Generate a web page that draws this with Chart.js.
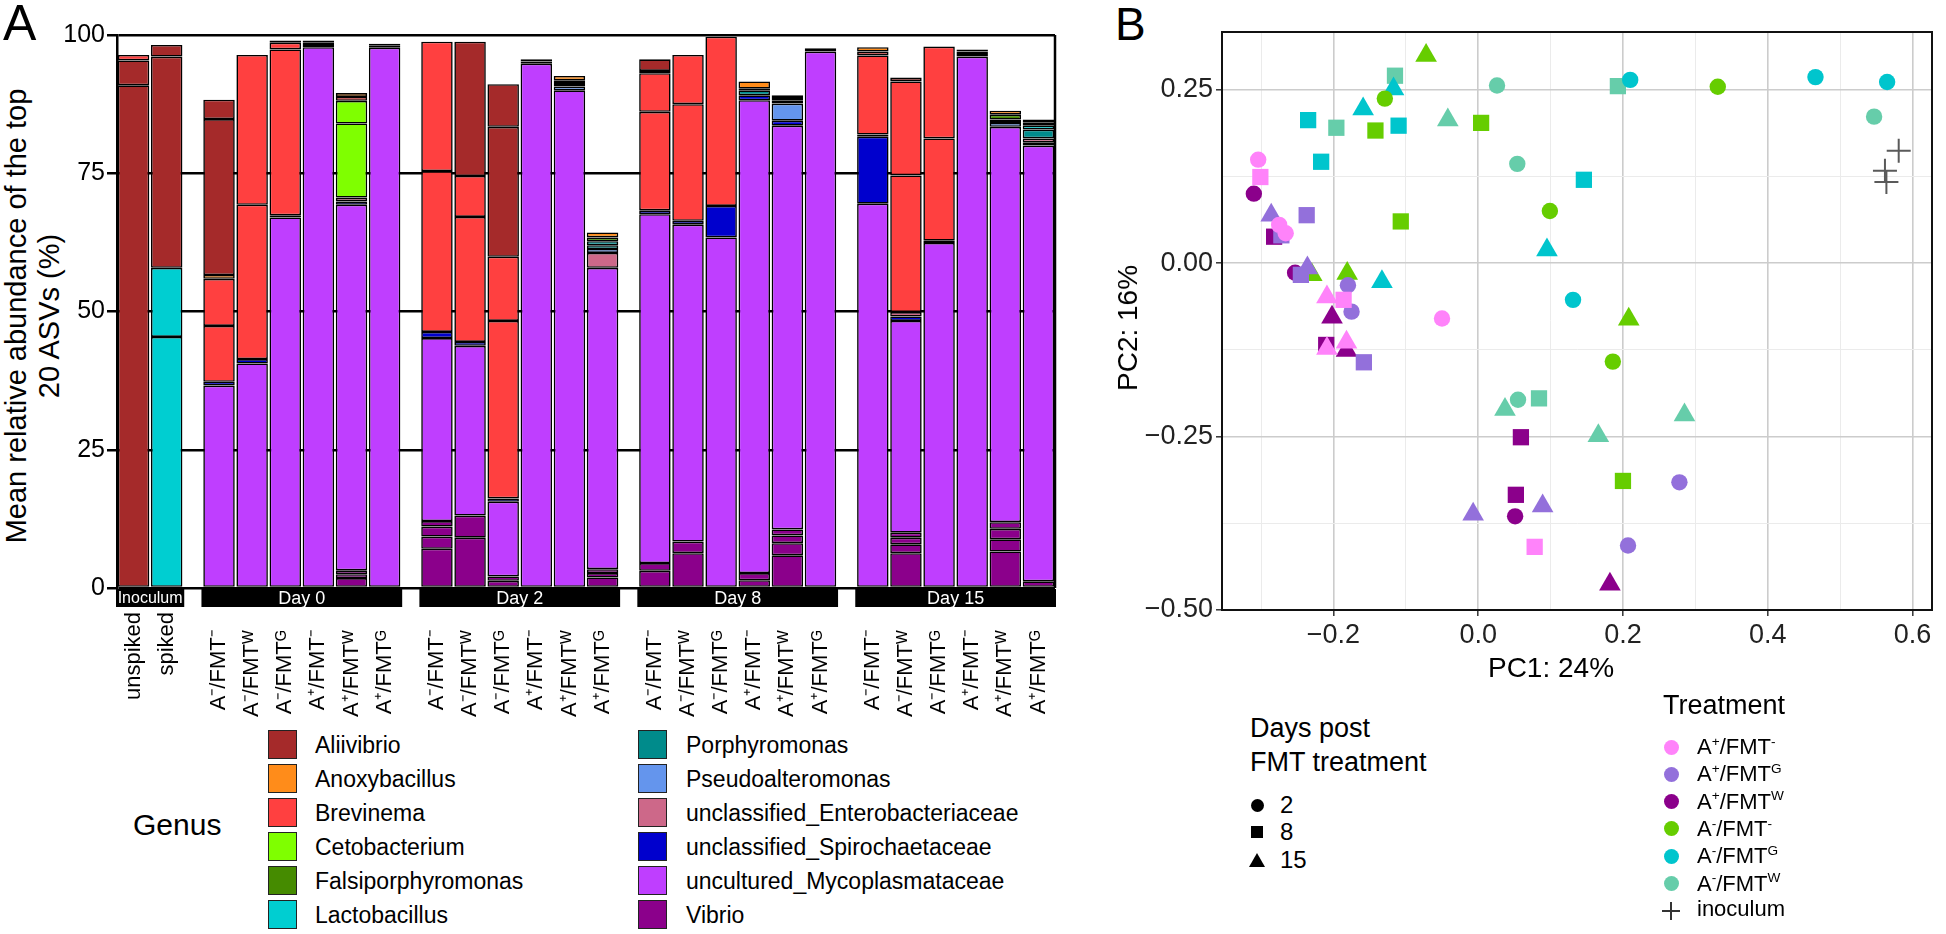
<!DOCTYPE html>
<html><head><meta charset="utf-8">
<script src="https://cdn.jsdelivr.net/npm/chart.js@4.4.1/dist/chart.umd.min.js"></script>
<style>
html,body{margin:0;padding:0;background:#fff;}
body{width:1946px;height:934px;position:relative;overflow:hidden;font-family:"Liberation Sans",Arial,Helvetica,sans-serif;color:#000;}
.t{position:absolute;line-height:1;white-space:nowrap;transform:translateY(-50%);}
.rot{position:absolute;white-space:nowrap;text-align:center;transform:translate(-50%,-50%) rotate(-90deg);}
canvas{position:absolute;}
sup{font-size:62%;vertical-align:0;position:relative;top:-0.6em;}
.sw{position:absolute;width:27px;height:27px;border:1.5px solid #222;}
.dot{position:absolute;border-radius:50%;}
</style>
</head>
<body>
<div class="t" style="left:3px;top:23px;font-size:50px;">A</div>
<div class="t" style="left:1115px;top:24px;font-size:46px;">B</div>
<div class="rot" style="left:33px;top:316px;font-size:29px;line-height:33px;">Mean relative abundance of the top<br>20 ASVs (%)</div>
<canvas id="cA" width="1090" height="720" style="left:0;top:0;"></canvas>
<canvas id="cB" width="856" height="700" style="left:1090px;top:0;"></canvas>
<div class="t" style="left:1551px;top:668px;font-size:28px;transform:translate(-50%,-50%);">PC1: 24%</div>
<div class="rot" style="left:1128px;top:328px;font-size:28px;">PC2: 16%</div>
<div class="t" style="left:133px;top:825px;font-size:30px;">Genus</div>
<div id="legA"></div>
<div class="t" style="left:1250px;top:728px;font-size:27px;">Days post</div>
<div class="t" style="left:1250px;top:762px;font-size:27px;">FMT treatment</div>
<div id="legDay"></div>
<div class="t" style="left:1663px;top:705px;font-size:27px;">Treatment</div>
<div id="legTrt"></div>
<script>
const FONT = '"Liberation Sans", Arial, Helvetica, sans-serif';
const _ = null;

// ---------- Panel A data ----------
const groupNames = ['Inoculum', 'Day 0', 'Day 2', 'Day 8', 'Day 15'];
const groupSizes = [2, 6, 6, 6, 6];
const trtLabels = ['A\u207B/FMT\u207B', 'A\u207B/FMT\u1D42', 'A\u207B/FMT\u1D33', 'A\u207A/FMT\u207B', 'A\u207A/FMT\u1D42', 'A\u207A/FMT\u1D33'];
const sampleLabels = ['unspiked', 'spiked'].concat(trtLabels, trtLabels, trtLabels, trtLabels);

const genusNames = ['Aliivibrio', 'Anoxybacillus', 'Brevinema', 'Cetobacterium', 'Falsiporphyromonas', 'Lactobacillus',
  'Porphyromonas', 'Pseudoalteromonas', 'unclassified_Enterobacteriaceae', 'unclassified_Spirochaetaceae',
  'uncultured_Mycoplasmataceae', 'Vibrio'];

// top-20 ASVs, stacking order bottom -> top; 26 samples each
//                 unsp spk | D0: A-F- A-FW A-FG A+F- A+FW A+FG | D2 ... | D8 ... | D15 ...
const asvV1  = [_, _,   _, _, _, _, 1.8, _,   7.1, 9.1, 1.3, _, _, 1.9,   3.1, 6.3, _, 1.4, 5.9, _,   _, 6.3, _, _, 6.6, 1.2];
const asvV2  = [_, _,   _, _, _, _, 0.7, _,   2.2, 4.0, 0.8, _, _, 0.8,   1.4, 2.1, _, 1.3, 2.2, _,   _, 1.6, _, _, 2.2, _];
const asvV3  = [_, _,   _, _, _, _, 0.7, _,   1.8, _, _, _, _, 0.7,       _, _, _, _, 1.4, _,         _, 1.2, _, _, 1.9, _];
const asvV4  = [_, _,   _, _, _, _, _, _,     1.0, _, _, _, _, _,         _, _, _, _, 1.1, _,         _, 0.9, _, _, 1.2, _];
const asvM1  = [_, _,   36.6, 40.6, 67.0, 97.8, 66.1, 97.7,   33.1, 30.7, 13.5, 94.8, 90.0, 54.5,   63.1, 57.3, 63.4, 85.5, 73.0, 97.0,   69.5, 38.3, 62.4, 96.1, 71.5, 78.8];
const asvS1  = [_, _,   0.7, 0.8, _, _, 0.6, _,   1.1, 0.7, 0.6, _, _, _,   0.7, 0.7, 5.7, 0.9, 0.9, _,   12.1, 0.8, 0.4, _, _, 0.6];
const asvE1  = [_, _,   _, _, _, _, 0.7, _,   _, _, _, _, _, 2.7,   _, _, _, _, _, _,   _, 0.8, _, _, _, 0.7];
const asvP1  = [_, _,   _, _, _, _, _, _,     _, _, _, _, 0.7, 0.7, _, _, _, _, 3.1, _,   _, _, _, _, 0.7, _];
const asvPo1 = [_, _,   _, _, 0.4, 0.4, _, 0.35,   _, _, _, 0.4, 0.6, 0.7,   _, _, _, 0.9, 0.5, 0.3,   0.4, _, _, 0.45, 0.6, 1.6];
const asvL1  = [_, 45.4, _, _, _, _, _, _,   _, _, _, _, _, 0.7,   _, _, _, _, _, _,   _, _, _, _, _, 0.7];
const asvL2  = [_, 12.5, _, _, _, _, _, _,   _, _, _, _, _, _,     _, _, _, _, _, _,   _, _, _, _, _, _];
const asvF1  = [_, _,   _, _, _, 0.4, _, _,   _, _, _, _, 0.5, 0.7,   _, _, _, 0.3, _, _,   _, _, _, 0.45, 0.9, 0.6];
const asvC1  = [_, _,   _, _, _, _, 13.4, _,   _, _, _, _, _, _,   _, _, _, _, 0.5, _,   _, _, _, _, _, _];
const asvC2  = [_, _,   _, _, _, _, 4.1, _,    _, _, _, _, _, _,   _, _, _, _, _, _,     _, _, _, _, _, _];
const asvB1  = [_, _,   10.1, 27.9, 30.0, _, 0.7, _,   29.1, 22.6, 32.1, _, _, _,   17.8, 21.1, 30.6, _, _, _,   14.3, 24.7, 18.5, _, _, _];
const asvB2  = [_, _,   8.5, 27.1, 1.2, _, _, _,   23.4, 7.4, 11.6, _, _, _,   7.0, 8.9, _, _, _, _,   0.7, 17.0, 16.6, _, _, _];
const asvAn1 = [_, _,   0.7, _, 0.4, 0.4, 0.7, 0.35,   _, _, _, 0.4, 0.8, 0.9,   0.4, _, _, 1.3, 0.5, 0.3,   0.8, _, _, 0.4, 0.7, 0.5];
const asvAl1 = [90.9, 38.2,   28.2, _, _, _, _, _,   _, 24.3, 23.5, _, _, _,   2.1, _, _, _, _, _,   _, 0.7, _, _, _, _];
const asvAl2 = [4.5, 2.1,   3.5, _, _, _, _, _,   _, _, 7.7, _, _, _,   _, _, _, _, _, _,   _, _, _, _, _, _];
const asvB3  = [1.0, _,   _, _, _, _, _, _,   _, _, _, _, _, _,   _, _, _, _, _, _,   _, _, _, _, _, _];

const asvList = [
  ['Vibrio', asvV1], ['Vibrio', asvV2], ['Vibrio', asvV3], ['Vibrio', asvV4],
  ['uncultured_Mycoplasmataceae', asvM1], ['unclassified_Spirochaetaceae', asvS1],
  ['unclassified_Enterobacteriaceae', asvE1], ['Pseudoalteromonas', asvP1], ['Porphyromonas', asvPo1],
  ['Lactobacillus', asvL1], ['Lactobacillus', asvL2], ['Falsiporphyromonas', asvF1],
  ['Cetobacterium', asvC1], ['Cetobacterium', asvC2], ['Brevinema', asvB1], ['Brevinema', asvB2],
  ['Anoxybacillus', asvAn1], ['Aliivibrio', asvAl1], ['Aliivibrio', asvAl2], ['Brevinema', asvB3]
];

// ---------- Panel B data: [PC1, PC2, day] ----------
const pcoaApFmtNeg = [[-0.304,0.149,2],[-0.301,0.124,8],[-0.275,0.055,2],[-0.266,0.043,2],[-0.209,-0.049,15],[-0.186,-0.053,8],[-0.209,-0.123,15],[-0.182,-0.114,15],[-0.050,-0.080,2],[0.078,-0.409,8]];
const pcoaApFmtG   = [[-0.286,0.069,15],[-0.237,0.069,8],[-0.272,0.040,8],[-0.245,-0.017,8],[-0.236,-0.007,15],[-0.180,-0.032,2],[-0.175,-0.070,2],[-0.158,-0.143,8],[-0.007,-0.362,15],[0.089,-0.350,15],[0.278,-0.316,2],[0.207,-0.407,2]];
const pcoaApFmtW   = [[-0.310,0.100,2],[-0.282,0.038,8],[-0.253,-0.014,2],[-0.202,-0.078,15],[-0.210,-0.118,8],[-0.182,-0.126,15],[0.059,-0.251,8],[0.052,-0.334,8],[0.051,-0.365,2],[0.182,-0.463,15]];
const pcoaAmFmtNeg = [[-0.072,0.299,15],[-0.129,0.237,2],[-0.142,0.191,8],[0.004,0.202,8],[0.331,0.254,2],[-0.107,0.060,8],[0.099,0.075,2],[-0.230,-0.017,15],[-0.181,-0.015,15],[0.208,-0.081,15],[0.186,-0.142,2],[0.200,-0.314,8]];
const pcoaAmFmtG   = [[-0.235,0.206,8],[-0.217,0.146,8],[-0.159,0.222,15],[-0.117,0.251,15],[-0.110,0.198,8],[-0.133,-0.027,15],[0.210,0.264,2],[0.146,0.120,8],[0.095,0.019,15],[0.131,-0.053,2],[0.466,0.268,2],[0.565,0.261,2]];
const pcoaAmFmtW   = [[-0.115,0.270,8],[-0.196,0.195,8],[-0.042,0.206,15],[0.026,0.256,2],[0.054,0.143,2],[0.193,0.255,8],[0.547,0.211,2],[0.037,-0.211,15],[0.055,-0.197,2],[0.084,-0.195,8],[0.166,-0.249,15],[0.285,-0.219,15]];
const pcoaInoculum = [[0.581,0.162],[0.562,0.133],[0.564,0.117]];
const dayLevels = [2, 8, 15];

// ---------- styles ----------
const genusColors = {
  'Aliivibrio':'#A52A2A','Anoxybacillus':'#FF8C1A','Brevinema':'#FF4040','Cetobacterium':'#7FFF00',
  'Falsiporphyromonas':'#458B00','Lactobacillus':'#00CED1','Porphyromonas':'#008B8B','Pseudoalteromonas':'#6495ED',
  'unclassified_Enterobacteriaceae':'#CD6889','unclassified_Spirochaetaceae':'#0000CD',
  'uncultured_Mycoplasmataceae':'#BF3EFF','Vibrio':'#8B008B'
};
const trtStyles = [
  {html:'A<sup>+</sup>/FMT<sup>-</sup>', data:pcoaApFmtNeg, color:'#FF83FA'},
  {html:'A<sup>+</sup>/FMT<sup>G</sup>', data:pcoaApFmtG, color:'#9370DB'},
  {html:'A<sup>+</sup>/FMT<sup>W</sup>', data:pcoaApFmtW, color:'#8B008B'},
  {html:'A<sup>-</sup>/FMT<sup>-</sup>', data:pcoaAmFmtNeg, color:'#66CD00'},
  {html:'A<sup>-</sup>/FMT<sup>G</sup>', data:pcoaAmFmtG, color:'#00C5CD'},
  {html:'A<sup>-</sup>/FMT<sup>W</sup>', data:pcoaAmFmtW, color:'#66CDAA'}
];

Chart.defaults.font.family = FONT;
Chart.defaults.color = '#000';

// ---------- Panel A ----------
const GAP = 0.58;
const barX = [], groupSpan = [];
let pos = 0;
groupSizes.forEach(n => { const s = pos; for (let k = 0; k < n; k++) { barX.push(pos + 0.5); pos += 1; } groupSpan.push([s, pos]); pos += GAP; });
const xMaxA = pos - GAP;

const dsA = asvList.map(([g, vals]) => ({
  label: g,
  data: vals.map((v, i) => ({x: barX[i], y: v})),
  backgroundColor: genusColors[g],
  borderColor: '#000',
  borderWidth: 1.6,
  borderSkipped: false,
  barPercentage: 0.95,
  categoryPercentage: 1
}));

const panelAPlugin = {
  id: 'panelA',
  beforeDatasetsDraw(chart) {
    const {ctx, chartArea: a} = chart;
    ctx.save(); ctx.strokeStyle = '#000'; ctx.lineWidth = 2.5;
    ctx.beginPath(); ctx.moveTo(a.right, a.top); ctx.lineTo(a.right, a.bottom); ctx.stroke();
    ctx.restore();
  },
  afterDraw(chart) {
    const {ctx, chartArea: a, scales: {x}} = chart;
    ctx.save();
    groupSpan.forEach(([s, e], g) => {
      const x0 = x.getPixelForValue(s) - 1, x1 = x.getPixelForValue(e) + 1;
      ctx.fillStyle = '#000';
      ctx.fillRect(x0, a.bottom + 1, x1 - x0, 18);
      ctx.fillStyle = '#fff';
      ctx.font = (g === 0 ? '16px ' : '18px ') + FONT;
      ctx.textAlign = 'center'; ctx.textBaseline = 'middle';
      ctx.fillText(groupNames[g], (x0 + x1) / 2, a.bottom + 11);
    });
    ctx.restore();
  }
};

new Chart(document.getElementById('cA'), {
  type: 'bar',
  data: {datasets: dsA},
  options: {
    responsive: false, animation: false, events: [],
    layout: {padding: {top: 35, right: 35, left: 0, bottom: 0}},
    plugins: {legend: {display: false}, tooltip: {enabled: false}},
    scales: {
      x: {
        type: 'linear', min: 0, max: xMaxA, stacked: true, offset: false,
        grid: {display: false, drawTicks: false, offset: false}, border: {display: false},
        afterBuildTicks: ax => { ax.ticks = barX.map(v => ({value: v})); },
        ticks: {autoSkip: false, maxRotation: 90, minRotation: 90, padding: 24,
          font: {size: 22}, color: '#000',
          callback: (v, i) => i >= 2 ? sampleLabels[i] + '   ' : sampleLabels[i]},
        afterFit: s => { s.height = 132; }
      },
      y: {
        min: 0, max: 100, stacked: true,
        ticks: {stepSize: 25, font: {size: 25}, color: '#000', padding: 2},
        grid: {color: '#000', lineWidth: 2.5, tickLength: 10},
        border: {display: true, color: '#000', width: 2.5},
        afterFit: s => { s.width = 117; }
      }
    }
  },
  plugins: [panelAPlugin]
});

// ---------- Panel B ----------
const isMajX = v => Math.abs(Math.round(v * 10)) % 2 === 0;
const isMajY = v => Math.abs(Math.round(v * 8)) % 2 === 0;
const fmt = (v, d) => (v < -1e-9 ? '\u2212' : '') + Math.abs(v).toFixed(d);
const shapeOf = d => d === 2 ? 'circle' : (d === 8 ? 'rect' : 'triangle');
const radOf = d => d === 2 ? 8.2 : (d === 8 ? 11.5 : 12.5);

const dsB = trtStyles.map(t => ({
  type: 'scatter',
  data: t.data.map(p => ({x: p[0], y: p[1], day: p[2]})),
  backgroundColor: t.color, borderColor: t.color, borderWidth: 0,
  pointStyle: c => (c.raw ? shapeOf(c.raw.day) : 'circle'),
  pointRadius: c => (c.raw ? radOf(c.raw.day) : 8),
  pointHoverRadius: c => (c.raw ? radOf(c.raw.day) : 8)
}));
dsB.push({
  type: 'scatter',
  data: pcoaInoculum.map(p => ({x: p[0], y: p[1]})),
  pointStyle: 'cross', pointRadius: 12, pointHoverRadius: 12,
  borderColor: '#5a5a5a', backgroundColor: '#5a5a5a', borderWidth: 2
});

const frameB = {
  id: 'frameB',
  beforeDatasetsDraw(chart) {
    const {ctx, chartArea: a} = chart;
    ctx.save(); ctx.strokeStyle = '#111'; ctx.lineWidth = 2;
    ctx.strokeRect(a.left, a.top, a.right - a.left, a.bottom - a.top);
    ctx.restore();
  }
};

new Chart(document.getElementById('cB'), {
  type: 'scatter',
  data: {datasets: dsB},
  options: {
    responsive: false, animation: false, events: [],
    layout: {padding: {top: 32, right: 3, left: 0, bottom: 0}},
    plugins: {legend: {display: false}, tooltip: {enabled: false}},
    scales: {
      x: {
        type: 'linear', min: -0.354, max: 0.627,
        afterBuildTicks: ax => { ax.ticks = [-3, -2, -1, 0, 1, 2, 3, 4, 5, 6].map(k => ({value: k / 10})); },
        ticks: {autoSkip: false, maxRotation: 0, padding: 3, font: {size: 27}, color: '#222',
          callback: v => isMajX(v) ? fmt(v, 1) : ''},
        grid: {color: c => isMajX(c.tick.value) ? '#cccccc' : '#ebebeb',
               lineWidth: c => isMajX(c.tick.value) ? 1.6 : 1,
               tickColor: c => isMajX(c.tick.value) ? '#333' : 'rgba(0,0,0,0)',
               tickLength: 6, tickWidth: 1.5},
        border: {display: true, color: '#111', width: 2},
        afterFit: s => { s.height = 90; }
      },
      y: {
        type: 'linear', min: -0.5, max: 0.333,
        afterBuildTicks: ax => { ax.ticks = [-4, -3, -2, -1, 0, 1, 2].map(k => ({value: k / 8})); },
        ticks: {autoSkip: false, padding: 3, font: {size: 27}, color: '#222',
          callback: v => isMajY(v) ? fmt(v, 2) : ''},
        grid: {color: c => isMajY(c.tick.value) ? '#cccccc' : '#ebebeb',
               lineWidth: c => isMajY(c.tick.value) ? 1.6 : 1,
               tickColor: c => isMajY(c.tick.value) ? '#333' : 'rgba(0,0,0,0)',
               tickLength: 6, tickWidth: 1.5},
        border: {display: true, color: '#111', width: 2},
        afterFit: s => { s.width = 132; }
      }
    }
  },
  plugins: [frameB]
});

// ---------- Legends (HTML text) ----------
(function () {
  const legA = document.getElementById('legA');
  let h = '';
  genusNames.forEach((g, i) => {
    const col = Math.floor(i / 6), row = i % 6;
    const cy = 745 + row * 34;
    const sx = col === 0 ? 268 : 638, tx = col === 0 ? 315 : 686;
    h += `<div class="sw" style="left:${sx}px;top:${cy - 15}px;background:${genusColors[g]}"></div>`;
    h += `<div class="t" style="left:${tx}px;top:${cy}px;font-size:23px;">${g}</div>`;
  });
  legA.innerHTML = h;

  const legDay = document.getElementById('legDay');
  const dy = [805, 832, 860];
  let d = '';
  dayLevels.forEach((lv, i) => {
    const cy = dy[i];
    if (i === 0) d += `<div class="dot" style="left:${1257 - 6.5}px;top:${cy - 6.5}px;width:13px;height:13px;background:#000"></div>`;
    if (i === 1) d += `<div style="position:absolute;left:${1257 - 6}px;top:${cy - 6}px;width:12px;height:12px;background:#000"></div>`;
    if (i === 2) d += `<div style="position:absolute;left:${1257 - 8}px;top:${cy - 7}px;width:0;height:0;border-left:8px solid transparent;border-right:8px solid transparent;border-bottom:14px solid #000"></div>`;
    d += `<div class="t" style="left:1280px;top:${cy}px;font-size:24px;">${lv}</div>`;
  });
  legDay.innerHTML = d;

  const legTrt = document.getElementById('legTrt');
  let s = '';
  trtStyles.forEach((t, i) => {
    const cy = 747 + i * 27.3;
    s += `<div class="dot" style="left:${1671 - 7.5}px;top:${cy - 7.5}px;width:15px;height:15px;background:${t.color}"></div>`;
    s += `<div class="t" style="left:1697px;top:${cy}px;font-size:22px;">${t.html}</div>`;
  });
  const cy = 911;
  s += `<div style="position:absolute;left:1662px;top:${cy - 1}px;width:18px;height:1.6px;background:#333"></div>`;
  s += `<div style="position:absolute;left:1670px;top:${cy - 9}px;width:1.6px;height:18px;background:#333"></div>`;
  s += `<div class="t" style="left:1697px;top:${cy - 2}px;font-size:22px;">inoculum</div>`;
  legTrt.innerHTML = s;
})();
</script>
</body></html>
